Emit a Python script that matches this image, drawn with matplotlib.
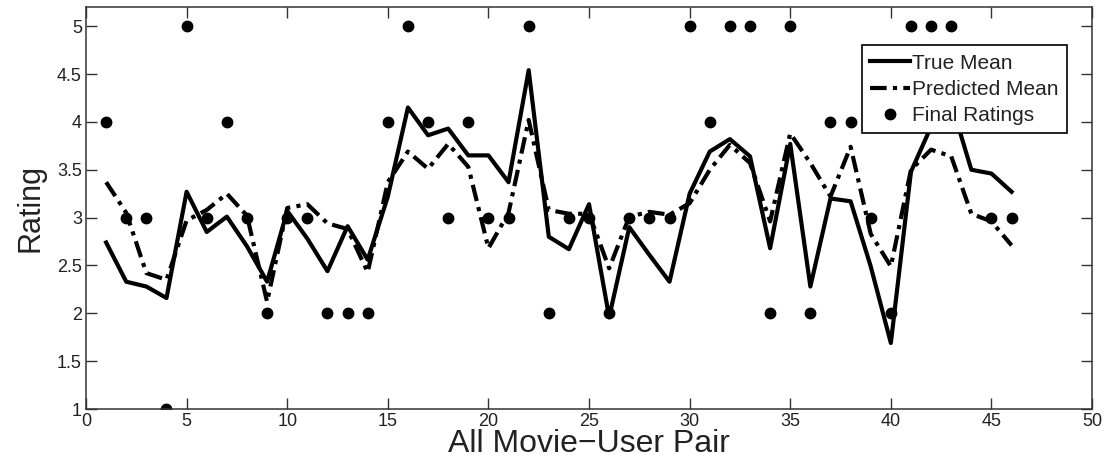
import numpy as np
import matplotlib.pyplot as plt

# все пары фильм-пользователь
pairs = list(range(1, 47))

true_mean = [2.74, 2.33, 2.28, 2.16, 3.27, 2.85, 3.01, 2.70, 2.33, 3.07,
             2.78, 2.44, 2.91, 2.56, 3.22, 4.15, 3.86, 3.93, 3.65, 3.65,
             3.37, 4.54, 2.80, 2.67, 3.14, 1.96, 2.90, 2.61, 2.33, 3.25,
             3.69, 3.82, 3.64, 2.68, 3.77, 2.28, 3.20, 3.17, 2.49, 1.69,
             3.48, 3.95, 4.20, 3.50, 3.46, 3.27]

pred_mean = [3.37, 3.05, 2.42, 2.35, 2.97, 3.08, 3.25, 3.02, 2.12, 3.10,
             3.14, 2.94, 2.88, 2.43, 3.37, 3.69, 3.51, 3.77, 3.53, 2.68,
             3.05, 4.02, 3.08, 3.04, 3.04, 2.47, 3.01, 3.06, 3.03, 3.15,
             3.50, 3.76, 3.57, 2.96, 3.88, 3.57, 3.22, 3.74, 2.83, 2.49,
             3.50, 3.71, 3.64, 3.04, 2.96, 2.71]

final_ratings = [4, 3, 3, 1, 5, 3, 4, 3, 2, 3,
                 3, 2, 2, 2, 4, 5, 4, 3, 4, 3,
                 3, 5, 2, 3, 3, 2, 3, 3, 3, 5,
                 4, 5, 5, 2, 5, 2, 4, 4, 3, 2,
                 5, 5, 5, 4, 3, 3]

plt.rcParams['font.family'] = ['Liberation Sans', 'DejaVu Sans']

fig = plt.figure(figsize=(11.07, 4.68), dpi=100)
ax = fig.add_axes([0.0777, 0.126, 0.9088, 0.859])

ax.plot(pairs, true_mean, color='black', lw=3, label='True Mean')
ax.plot(pairs, pred_mean, color='black', lw=3, dashes=[4, 1.5, 1, 1.5],
        label='Predicted Mean')
ax.plot(pairs, final_ratings, 'o', color='black', ms=7.5, label='Final Ratings')

ax.set_xlim(0, 50)
ax.set_ylim(1, 5.2)
ax.set_xticks(range(0, 51, 5))
ax.set_yticks([1, 1.5, 2, 2.5, 3, 3.5, 4, 4.5, 5])
ax.set_yticklabels(['1', '1.5', '2', '2.5', '3', '3.5', '4', '4.5', '5'])
ax.tick_params(direction='in', top=True, right=True, length=8, width=1,
               labelsize=13, pad=3, color='#333333', labelcolor='#222222')
for s in ax.spines.values():
    s.set_linewidth(1.1)
    s.set_color('#333333')

ax.set_xlabel('All Movie\u2212User Pair', fontsize=23, labelpad=-1,
              color='#222222')
ax.set_ylabel('Rating', fontsize=22, labelpad=8, color='#222222')

leg = ax.legend(loc='upper right', bbox_to_anchor=(0.975, 0.905), fontsize=15,
                frameon=True, fancybox=False, framealpha=1, handlelength=1.9,
                handletextpad=0.1, borderpad=0.4, labelspacing=0.35,
                borderaxespad=0)
leg.get_frame().set_edgecolor('black')
leg.get_frame().set_linewidth(1.2)
for t in leg.get_texts():
    t.set_color('#222222')

plt.savefig('out.png', dpi=100)
